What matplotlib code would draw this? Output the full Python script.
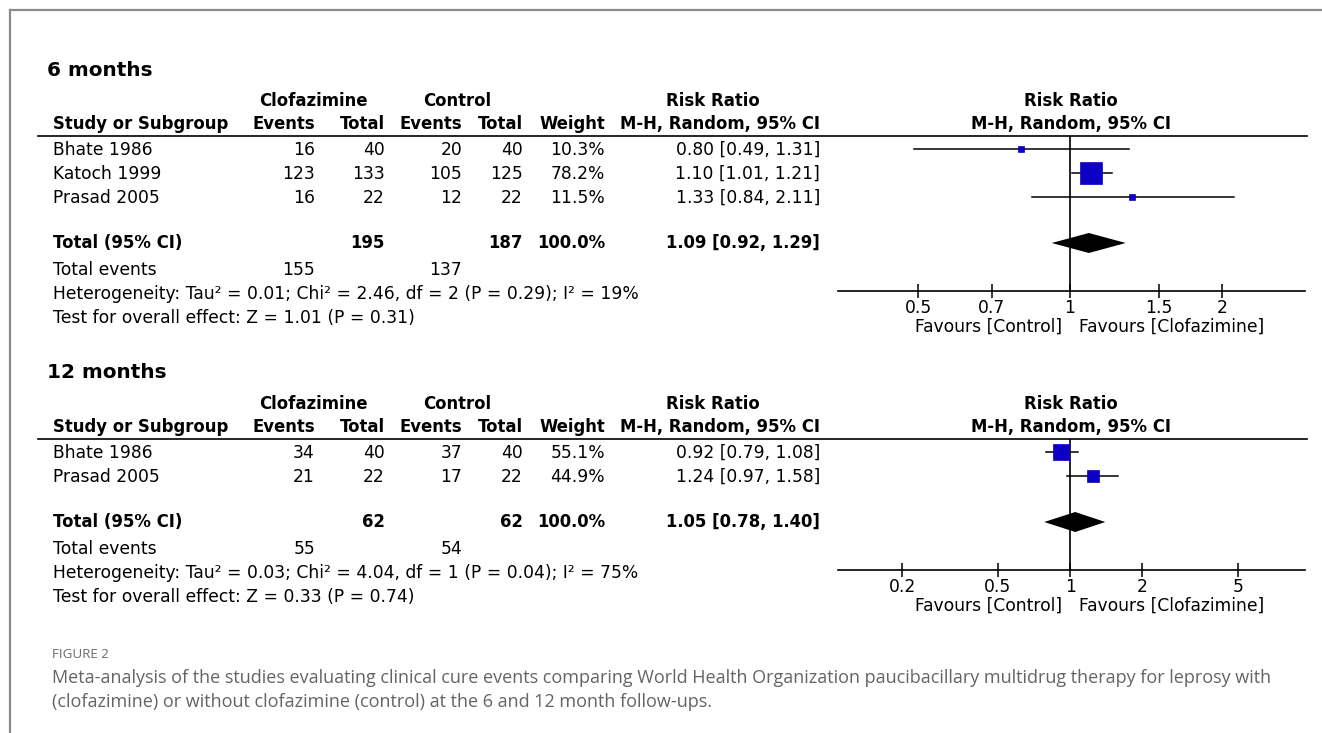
import numpy as np
import matplotlib
matplotlib.use("Agg")
import matplotlib.pyplot as plt

# ---- data: 6 months ----
studies_6 = ["Bhate 1986", "Katoch 1999", "Prasad 2005"]
clo_events_6 = [16, 123, 16]
clo_total_6 = [40, 133, 22]
ctl_events_6 = [20, 105, 12]
ctl_total_6 = [40, 125, 22]
weight_6 = [10.3, 78.2, 11.5]
rr_6 = [0.80, 1.10, 1.33]
lo_6 = [0.49, 1.01, 0.84]
hi_6 = [1.31, 1.21, 2.11]
sum_6 = {"clo_total": 195, "ctl_total": 187, "rr": 1.09, "lo": 0.92, "hi": 1.29,
         "clo_events": 155, "ctl_events": 137}
het_6 = "Heterogeneity: Tau\u00b2 = 0.01; Chi\u00b2 = 2.46, df = 2 (P = 0.29); I\u00b2 = 19%"
test_6 = "Test for overall effect: Z = 1.01 (P = 0.31)"
ticks_6 = [0.5, 0.7, 1, 1.5, 2]
ticklabels_6 = ["0.5", "0.7", "1", "1.5", "2"]

# ---- data: 12 months ----
studies_12 = ["Bhate 1986", "Prasad 2005"]
clo_events_12 = [34, 21]
clo_total_12 = [40, 22]
ctl_events_12 = [37, 17]
ctl_total_12 = [40, 22]
weight_12 = [55.1, 44.9]
rr_12 = [0.92, 1.24]
lo_12 = [0.79, 0.97]
hi_12 = [1.08, 1.58]
sum_12 = {"clo_total": 62, "ctl_total": 62, "rr": 1.05, "lo": 0.78, "hi": 1.40,
          "clo_events": 55, "ctl_events": 54}
het_12 = "Heterogeneity: Tau\u00b2 = 0.03; Chi\u00b2 = 4.04, df = 1 (P = 0.04); I\u00b2 = 75%"
test_12 = "Test for overall effect: Z = 0.33 (P = 0.74)"
ticks_12 = [0.2, 0.5, 1, 2, 5]
ticklabels_12 = ["0.2", "0.5", "1", "2", "5"]

caption_title = "FIGURE 2"
caption_lines = [
    "Meta-analysis of the studies evaluating clinical cure events comparing World Health Organization paucibacillary multidrug therapy for leprosy with",
    "(clofazimine) or without clofazimine (control) at the 6 and 12 month follow-ups.",
]

W, H = 1322, 733
fig = plt.figure(figsize=(W / 100, H / 100), dpi=100)
ax = fig.add_axes([0, 0, 1, 1])
ax.set_xlim(0, W)
ax.set_ylim(H, 0)
ax.axis("off")

FS = 12.3
FSB = 11.9
BLUE = "#0c00c4"

# outer frame
ax.plot([10, W], [10, 10], color="#8a8a8a", lw=1.6)
ax.plot([10, 10], [10, H], color="#8a8a8a", lw=1.6)

# column right edges (px)
X_CLO_EV, X_CLO_TOT, X_CTL_EV, X_CTL_TOT, X_W, X_CI = 315, 385, 462, 523, 605, 820
X_STUDY = 53
FOREST_L, FOREST_R = 838, 1305


def txt(x, y, s, ha="left", bold=False, size=None, **kw):
    ax.text(x, y, s, ha=ha, va="center", fontsize=size or (FSB if bold else FS),
            fontweight="bold" if bold else "normal", color="black", **kw)


def panel(title, top, studies, ce, ct, te, tt, w, rr, lo, hi, summ, het, test,
          ticks, ticklabels, xlim, row_gap=24):
    title_y = top
    h1 = top + 31
    h2 = top + 54
    line_y = top + 66
    rows = [line_y + 14 + row_gap * i for i in range(len(studies))]
    total_y = rows[-1] + 45
    events_y = total_y + 27
    het_y = events_y + 24
    test_y = het_y + 24
    axis_y = het_y - 3

    txt(47, title_y, title, bold=True, size=14.4)
    txt(313, h1, "Clofazimine", ha="center", bold=True)
    txt(457, h1, "Control", ha="center", bold=True)
    txt(713, h1, "Risk Ratio", ha="center", bold=True)
    txt(1071, h1, "Risk Ratio", ha="center", bold=True)
    txt(X_STUDY, h2, "Study or Subgroup", bold=True)
    txt(X_CLO_EV, h2, "Events", ha="right", bold=True)
    txt(X_CLO_TOT, h2, "Total", ha="right", bold=True)
    txt(X_CTL_EV, h2, "Events", ha="right", bold=True)
    txt(X_CTL_TOT, h2, "Total", ha="right", bold=True)
    txt(X_W, h2, "Weight", ha="right", bold=True)
    txt(X_CI, h2, "M-H, Random, 95% CI", ha="right", bold=True)
    txt(1071, h2, "M-H, Random, 95% CI", ha="center", bold=True)
    ax.plot([38, 1307], [line_y, line_y], color="black", lw=1.2)

    for i, y in enumerate(rows):
        txt(X_STUDY, y, studies[i])
        txt(X_CLO_EV, y, str(ce[i]), ha="right")
        txt(X_CLO_TOT, y, str(ct[i]), ha="right")
        txt(X_CTL_EV, y, str(te[i]), ha="right")
        txt(X_CTL_TOT, y, str(tt[i]), ha="right")
        txt(X_W, y, f"{w[i]:.1f}%", ha="right")
        txt(X_CI, y, f"{rr[i]:.2f} [{lo[i]:.2f}, {hi[i]:.2f}]", ha="right")

    txt(X_STUDY, total_y, "Total (95% CI)", bold=True)
    txt(X_CLO_TOT, total_y, str(summ["clo_total"]), ha="right", bold=True)
    txt(X_CTL_TOT, total_y, str(summ["ctl_total"]), ha="right", bold=True)
    txt(X_W, total_y, "100.0%", ha="right", bold=True)
    txt(X_CI, total_y, f"{summ['rr']:.2f} [{summ['lo']:.2f}, {summ['hi']:.2f}]",
        ha="right", bold=True)
    txt(X_STUDY, events_y, "Total events")
    txt(X_CLO_EV, events_y, str(summ["clo_events"]), ha="right")
    txt(X_CTL_EV, events_y, str(summ["ctl_events"]), ha="right")
    txt(X_STUDY, het_y, het)
    txt(X_STUDY, test_y, test)

    # forest axes, y in pixel units
    fa = fig.add_axes([FOREST_L / W, 1 - axis_y / H, (FOREST_R - FOREST_L) / W,
                       (axis_y - line_y) / H])
    fa.set_xscale("log")
    fa.set_xlim(*xlim)
    fa.set_ylim(axis_y, line_y)
    fa.patch.set_alpha(0)
    for s in ["top", "left", "right"]:
        fa.spines[s].set_visible(False)
    fa.spines["bottom"].set_linewidth(1.2)
    fa.set_yticks([])
    fa.xaxis.set_minor_locator(matplotlib.ticker.NullLocator())
    fa.set_xticks(ticks)
    fa.set_xticklabels(ticklabels)
    fa.tick_params(axis="x", direction="inout", length=10, width=1.1,
                   labelsize=FS, pad=1)
    fa.axvline(1, color="black", lw=1.2)
    for i, y in enumerate(rows):
        y_m = y - 1
        fa.plot([lo[i], hi[i]], [y_m, y_m], color="black", lw=1.1)
        side_px = max(0.28 * w[i], 6)
        fa.plot(rr[i], y_m, marker="s", ms=side_px * 0.72, color=BLUE, mec=BLUE,
                mew=0.5)
    d_y = total_y
    fa.fill([summ["lo"], summ["rr"], summ["hi"], summ["rr"]],
            [d_y, d_y - 10, d_y, d_y + 10], color="black", lw=0)
    txt(1062, axis_y + 36, "Favours [Control]", ha="right")
    txt(1079, axis_y + 36, "Favours [Clofazimine]", ha="left")


panel("6 months", 70, studies_6, clo_events_6, clo_total_6, ctl_events_6, ctl_total_6,
      weight_6, rr_6, lo_6, hi_6, sum_6, het_6, test_6, ticks_6, ticklabels_6,
      (np.exp(-1.059), np.exp(1.073)))
panel("12 months", 373, studies_12, clo_events_12, clo_total_12, ctl_events_12,
      ctl_total_12, weight_12, rr_12, lo_12, hi_12, sum_12, het_12, test_12,
      ticks_12, ticklabels_12, (0.108, 9.5))

# caption
ax.text(52, 655, caption_title, ha="left", va="center", fontsize=9.6,
        color="#6b6b6b", family="Open Sans")
for k, line in enumerate(caption_lines):
    ax.text(52, 678 + 24 * k, line, ha="left", va="center", fontsize=13.0,
            color="#646464", family="Open Sans")

fig.savefig("out.png", dpi=100)
